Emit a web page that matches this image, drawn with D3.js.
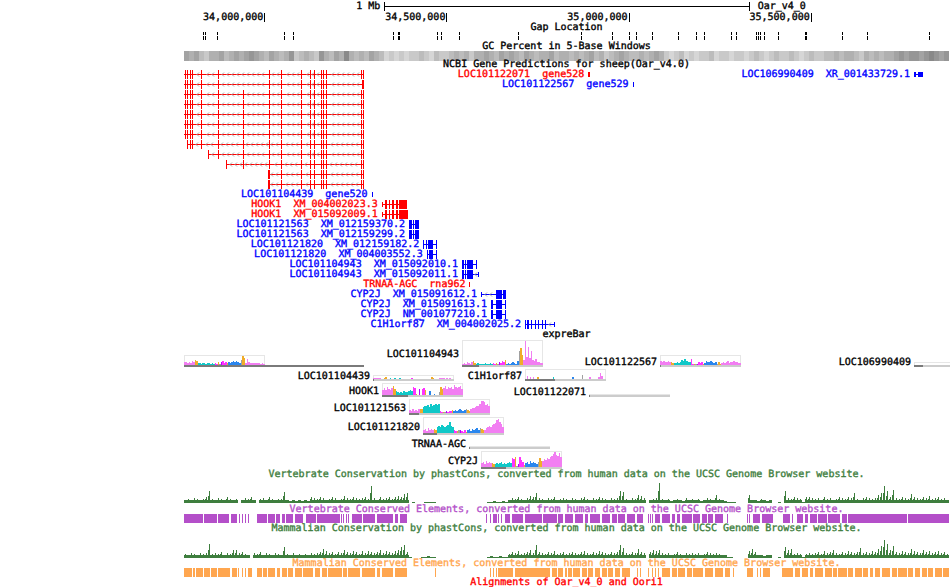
<!DOCTYPE html>
<html><head><meta charset="utf-8">
<script src="https://cdn.jsdelivr.net/npm/d3@7/dist/d3.min.js"></script>
<style>
html,body{margin:0;padding:0;background:#fff;}
svg{display:block}
text{font-family:"DejaVu Sans Mono",monospace;font-size:10px;white-space:pre;stroke-width:0.35px;text-rendering:geometricPrecision}
</style></head><body>
<svg id="chart" width="950" height="587"></svg>
<script>
// ---------------- DATA (genomic positions in kb) ----------------
const viewKb = [33779.56, 35879.65];
const rulerTicksBp = [34000000, 34500000, 35000000, 35500000];
const scaleBarKb = 1000;
const scaleBarLabel = "1 Mb";
const assemblyName = "Oar_v4_0";

const trackTitles = [
  "Gap Location",
  "GC Percent in 5-Base Windows",
  "NCBI Gene Predictions for sheep(Oar_v4.0)",
  "expreBar",
  "Vertebrate Conservation by phastCons, converted from human data on the UCSC Genome Browser website.",
  "Vertebrate Conserved Elements, converted from human data on the UCSC Genome Browser website.",
  "Mammalian Conservation by phastCons, converted from human data on the UCSC Genome Browser website.",
  "Mammalian Conserved Elements, converted from human data on the UCSC Genome Browser website.",
  "Alignments of Oar_v4_0 and Oori1"
];

const gapsKb = [[33830.9,33831.5],[33836.4,33837.0],[33868.8,33872.8],[34054.9,34055.5],[34079.6,34080.2],
  [34354.1,34354.7],[34368.4,34372.5],[34474.1,34478.0],[34485.1,34489.0],[34535.3,34536.0],[34697.3,34698.0],
  [34868.5,34869.1],[34953.6,34954.2],[35001.1,35001.7],[35020.3,35021.0],[35063.4,35064.0],[35136.5,35137.1],
  [35184.2,35184.8],[35207.0,35207.6],[35281.1,35281.7],[35294.8,35295.4],[35348.9,35349.5],[35354.4,35355.0],
  [35360.7,35361.3],[35371.7,35372.3],[35411.0,35411.6],[35484.2,35488.5],[35585.0,35585.6],[35653.6,35654.2],
  [35825.4,35826.0]];

// GC shade classes in equal bins across the view (0 = low GC / light, 9 = high / dark)
const gcShade = [6,5,6,4,3,5,5,6,4,5, 6,5,6,7,6,5,4,6,5,4, 5,7,3,4,5,4,3,7,5,4, 6,5,8,5,4,5,4,6,5,4,
  2,3,2,3,2,3,3,4,3,2, 4,3,3,4,5,4,5,3,5,5, 6,5,4,6,5,6,5,4,6,5, 4,5,5,6,4,5,5,4,
  5,4,5,6,4,5,3,4,5,6,5,4,4,5,4,5,6,5, 3,2,3,4,2,3,2,3,3,4,2,3,3,2,3,3,2,
  3,4,3,2,3,4,3,3,4,3,2,3,4,3,3,4, 4,5,4,5,5,4,3,5,4,5,4,5,5, 6,7,6,7,7,6,7,8,7,6,7];

// Left gene transcripts (label off-screen)
const leftExons = [[33781.5,33783.6],[33788.7,33791.4],[33796.0,33798.4],[33801.6,33804.3],[33827.0,33829.7],
  [33872.4,33875.1],[33941.0,33943.7],[34012.3,34015.0],[34047.2,34049.9],[34100.3,34103.0],[34124.1,34126.8],
  [34137.8,34140.5],[34156.2,34158.9],[34161.7,34164.4],[34169.9,34172.6],[34266.0,34268.7],[34270.4,34273.1]];
const leftTxStart = [33770,33770,33770,33770,33770,33770,33770,33788.7,33846.3,33894.9,34010.0,34010.0];
const leftTxEnd = 34273.1;
const leftTxSkip = [[6],[6,15,16],[],[],[],[],[],[],[],[],[7],[7]];
const leftTxExtra = [[],[[34268.2,34273.6]],[],[],[],[],[],[],[[33846.3,33849.0]],[[33894.9,33897.6]],
  [[34010.0,34015.0]],[[34010.0,34015.0]]];

// Labeled gene predictions: row = packing level in the picture; kind A = red, B = blue
const predGenes = [
  {row:0, name:"LOC101122071", acc:"gene528", kind:"A", exons:[], utr:[[34889.4,34894.9]]},
  {row:0, name:"LOC106990409", acc:"XR_001433729.1", kind:"B", exons:[], utr:[[35783.6,35789.1],[35794.6,35809.1]]},
  {row:1, name:"LOC101122567", acc:"gene529", kind:"B", exons:[], utr:[[35010.8,35013.5]]},
  {row:12, name:"LOC101104439", acc:"gene520", kind:"B", exons:[], utr:[[34294.3,34297.0]]},
  {row:13, name:"HOOK1", acc:"XM_004002023.3", kind:"A", utr:[[34322.3,34324.5]],
   exons:[[34330.0,34335.5],[34342.3,34345.1],[34350.6,34357.4],[34362.9,34365.7],[34369.8,34390.4]]},
  {row:14, name:"HOOK1", acc:"XM_015092009.1", kind:"A", utr:[[34322.3,34324.5]],
   exons:[[34330.0,34335.5],[34342.3,34345.1],[34350.6,34357.4],[34362.9,34365.7],[34369.8,34393.2]]},
  {row:15, name:"LOC101121563", acc:"XM_012159370.2", kind:"B", utr:[],
   exons:[[34397.2,34404.1],[34408.2,34410.1],[34413.7,34425.5]]},
  {row:16, name:"LOC101121563", acc:"XM_012159299.2", kind:"B", utr:[],
   exons:[[34397.2,34404.1],[34408.2,34410.1],[34413.7,34425.5]]},
  {row:17, name:"LOC101121820", acc:"XM_012159182.2", kind:"B", utr:[],
   exons:[[34436.5,34438.4],[34443.9,34446.6],[34449.4,34463.2],[34471.4,34473.3]]},
  {row:18, name:"LOC101121820", acc:"XM_004003552.3", kind:"B", utr:[],
   exons:[[34445.8,34448.6],[34450.8,34463.2],[34471.4,34473.3]]},
  {row:19, name:"LOC101104943", acc:"XM_015092010.1", kind:"B", utr:[],
   exons:[[34542.7,34546.9],[34551.0,34553.7],[34557.8,34571.6],[34581.2,34583.9]]},
  {row:20, name:"LOC101104943", acc:"XM_015092011.1", kind:"B", utr:[[34587.0,34589.4]],
   exons:[[34542.7,34546.9],[34551.0,34553.7],[34557.8,34571.6]]},
  {row:21, name:"TRNAA-AGC", acc:"rna962", kind:"A", exons:[], utr:[[34563.3,34566.0]]},
  {row:22, name:"CYP2J", acc:"XM_015091612.1", kind:"B", utr:[[34594.9,34596.8]],
   exons:[[34635.2,34640.7],[34642.4,34653.4],[34656.1,34663.5]]},
  {row:23, name:"CYP2J", acc:"XM_015091613.1", kind:"B", utr:[],
   exons:[[34622.3,34628.7],[34635.2,34653.4],[34660.8,34663.5]]},
  {row:24, name:"CYP2J", acc:"NM_001077210.1", kind:"B", utr:[],
   exons:[[34622.3,34628.7],[34635.2,34653.4],[34660.8,34663.5]]},
  {row:25, name:"C1H1orf87", acc:"XM_004002025.2", kind:"B", utr:[[34796.1,34798.1]],
   exons:[[34715.7,34718.4],[34722.5,34725.3],[34732.1,34734.9],[34743.1,34745.9],[34750.0,34752.8],
          [34763.2,34766.0],[34769.3,34772.0]]}
];

// expression bar chart: tissue colours and per-gene levels (53 tissues)
const tissueColors = ["#f27ef2","#f27ef2","#f27ef2","#f27ef2","#f27ef2","#f27ef2","#f27ef2",
  "#f0ac2a","#f0ac2a",
  "#10c8c8","#10c8c8","#10c8c8","#10c8c8","#10c8c8","#10c8c8","#10c8c8","#10c8c8","#10c8c8","#10c8c8","#10c8c8",
  "#ff33ff","#ff33ff","#f0ac2a","#a0a0a0",
  "#b400ff","#ff33ff","#ff33ff","#ff33ff","#f0ac2a",
  "#2a86ee","#2a86ee","#2a86ee","#2a86ee","#2a86ee","#2a86ee","#2a86ee","#2a86ee",
  "#a0a0a0","#f0ac2a","#f0ac2a",
  "#f27ef2","#f27ef2","#f27ef2","#f27ef2","#f27ef2","#f27ef2","#f27ef2","#f27ef2","#f27ef2","#f27ef2","#f27ef2","#f27ef2","#f27ef2"];
const exprLeftGene    = [3,3,2,3,2,4,3, 5,4, 2,2,1,2,2,1,2,2,1,2,1, 2,1, 3, 1, 3,4,2,3, 2, 3,2,3,4,3,4,3,2, 5, 9,7, 2,6,3,2,2,2,2,2,2,2,1,2,1];
const exprLOC101104439 = [1,1,1,1,1,0,0, 1,2, 0,0,1,0,0,1,0,0,1,0,0, 0,0, 0, 0, 0,1,0,0, 0, 0,0,0,0,0,0,0,0, 0, 2,1, 0,0,0,1,1,1,1,0,1,0,1,0,0];
const exprHOOK1       = [5,7,5,8,6,5,7, 9,6, 4,3,2,3,2,4,3,3,4,5,4, 8,7, 1, 0, 6,0,6,7, 5, 0,0,4,0,0,1,0,0, 3, 8,6, 7,9,6,8,7,8,6,10,8,7,8,9,6];
const exprLOC101121563 = [3,2,4,2,3,2,4, 4,4, 6,7,7,8,6,9,7,8,9,8,9, 2,1, 1, 1, 2,1,2,2, 3, 2,3,2,3,4,3,2,3, 4, 3,2, 4,5,5,6,7,7,9,12,12,11,8,9,7];
const exprLOC101121820 = [3,4,2,5,3,4,3, 4,3, 6,7,6,8,7,6,7,8,11,7,6, 3,2, 2, 3, 3,2,1,3, 1, 3,4,2,4,3,4,5,3, 5, 4,3, 3,5,6,7,6,8,9,10,13,14,11,9,6];
const exprLOC101104943 = [1,2,1,3,2,1,3, 4,2, 1,2,1,1,1,1,2,1,1,2,1, 2,1, 2, 1, 3,2,4,3, 5, 1,2,1,2,3,2,1,4, 14, 17,10, 5,24,8,18,7,14,5,4,6,3,3,2,2];
const exprCYP2J       = [4,5,3,6,4,5,4, 4,3, 3,4,3,4,5,3,4,3,4,5,4, 9,8, 10, 1, 3,10,7,5, 2, 4,5,3,6,4,5,4,3, 5, 9,6, 6,8,7,9,8,10,11,13,15,12,11,14,10];
const exprC1H1orf87   = [0,3,0,2,0,2,0, 0,2, 0,0,0,0,0,0,0,0,0,2,0, 0,0, 0, 0, 0,0,0,0, 0, 0,0,2,0,0,0,0,0, 4, 0,0, 0,0,2,0,0,0,0,0,2,6,3,0,0];
const exprLOC101122567 = [4,3,4,3,3,4,3, 3,2, 2,2,3,2,3,5,4,6,4,3,3, 6,1, 1, 1, 1,3,2,3, 1, 2,4,3,3,4,3,2,3, 1, 3,1, 2,3,2,3,4,2,3,3,4,3,3,2,2];
const exprGenes = [
  {name:"",             start:33770.0, end:34273.1, ceil:10, vals:exprLeftGene},
  {name:"LOC101104439", start:34297.6, end:34298.6, ceil:4,  vals:exprLOC101104439},
  {name:"HOOK1",        start:34322.3, end:34393.2, ceil:12, vals:exprHOOK1},
  {name:"LOC101121563", start:34397.2, end:34425.5, ceil:14, vals:exprLOC101121563},
  {name:"LOC101121820", start:34436.5, end:34474.1, ceil:16, vals:exprLOC101121820},
  {name:"LOC101104943", start:34542.7, end:34589.4, ceil:25, vals:exprLOC101104943},
  {name:"TRNAA-AGC",    start:34561.9, end:34564.6, ceil:1,  vals:[]},
  {name:"CYP2J",        start:34594.9, end:34663.5, ceil:16, vals:exprCYP2J},
  {name:"C1H1orf87",    start:34715.7, end:34798.1, ceil:10, vals:exprC1H1orf87},
  {name:"LOC101122071", start:34891.3, end:34894.0, ceil:1,  vals:[]},
  {name:"LOC101122567", start:35086.2, end:35088.9, ceil:10, vals:exprLOC101122567},
  {name:"LOC106990409", start:35783.6, end:35809.1, ceil:3,  vals:[]}
];

// conservation scores, equal bins across the view (null = no data)
const vertCons = [3,4,3,5,4,3,4,6,12,4, 3,5,4,3,6,4,3,4,null,3, 5,4,6,3,null,4,5,3,6,4, 3,4,4,11,3,2,3,2,3,2,
  3,2,6,5,4,6,5,3,4,6, 5,3,4,7,5,4,6,5,4,5, 6,4,17,5,3,6,4,5,6,4, 6,7,6,9,10,null,1,null,null,null,
  1,1,1,1,null,null,null,null,null,null, null,null,null,null,null,null,null,null,null,null,
  null,1,1,2,1,1,2,1,3,5, 4,6,4,3,5,7,6,10,5,4, 3,5,4,6,3,4,5,4,3,5, 4,3,5,6,4,3,5,4,6,5,
  4,3,5,4,5,12,11,4,3,5, 4,8,7,5,null,3,4,5,20,4, 3,4,2,3,4,3,2,5,3,4, 3,4,2,3,5,4,3,8,4,3,
  2,1,1,1,null,null,null,null,8,3, 3,2,4,3,2,3,null,null,1,null, 12,5,4,6,5,4,1,6,6,5,
  4,5,3,6,4,5,3,4,6,5, 4,6,5,10,4,3,5,6,5,4, 5,8,10,17,12,6,13,5,4,6, 5,4,9,6,5,4,6,5,7,4, 5,6,4,5,3];
const mammCons = [4,3,5,4,3,5,4,5,14,4, 5,4,6,3,5,4,8,8,5,6, 4,3,null,5,4,6,3,5,4,3, 5,4,3,11,4,3,5,3,4,3,
  4,3,5,4,5,6,9,7,5,6, 4,6,5,8,6,5,7,6,4,7, 5,7,6,5,6,8,5,7,6,5, 7,8,11,13,6,1,null,null,null,1,
  1,2,1,1,null,null,null,null,null,null, null,null,null,null,null,null,null,null,null,null,
  null,1,2,1,1,2,1,1,4,6, 5,7,4,5,6,8,5,13,6,5, 4,6,5,7,4,5,6,4,5,6, 5,4,6,7,5,4,6,5,7,6,
  5,4,6,5,6,13,10,5,4,6, 5,9,6,5,null,6,8,7,8,5, 4,5,3,4,6,4,3,5,4,5, 4,5,3,4,6,5,4,5,4,3,
  3,1,1,null,null,null,null,null,7,9, 6,3,3,2,3,3,null,null,1,null, 11,8,9,4,5,4,1,4,5,4,
  5,6,4,7,5,6,8,5,4,6, 5,7,6,5,6,10,5,6,5,7, 6,9,12,18,14,8,12,6,5,7, 6,5,9,7,6,5,8,6,7,5, 6,7,5,6,4];

const vertElements = [[33779.6,33832.6],[33834.5,33871.0],[33873.8,33903.9],[33907.8,33925.9],[33929.8,33932.5],
  [33938.0,33940.7],[33947.0,33949.7],[33956.1,33958.8],[33980.8,34008.3],[34011.0,34029.4],[34032.1,34043.1],
  [34047.8,34056.8],[34059.6,34079.6],[34084.3,34105.4],[34114.5,34141.9],[34143.9,34207.8],[34210.6,34213.3],
  [34216.9,34219.6],[34223.5,34226.2],[34229.0,34231.7],[34239.9,34267.4],[34270.1,34303.9],[34308.6,34354.1],
  [34358.8,34367.9],[34372.5,34390.9],[34608.6,34611.3],[34619.6,34622.3],[34628.6,34638.0],[34642.4,34645.1],
  [34648.9,34651.6],[34660.7,34674.5],[34679.1,34711.0],[34715.6,34761.5],[34765.9,34802.7],[34807.1,34820.8],
  [34825.4,34848.2],[34852.9,34875.7],[34880.3,34889.4],[34894.1,34921.5],[34926.2,34949.0],[34953.6,34967.4],
  [34971.8,34990.1],[34994.8,35017.6],[35022.3,35038.7],[35054.1,35056.8],[35058.8,35061.5],[35063.4,35066.1],
  [35072.5,35086.2],[35090.9,35113.7],[35118.3,35127.4],[35132.1,35141.1],[35145.8,35173.2],[35177.6,35196.0],
  [35200.7,35214.4],[35218.8,35232.5],[35237.2,35260.0],[35269.3,35272.0],[35324.2,35326.9],[35331.3,35334.0],
  [35342.3,35360.7],[35365.4,35397.2],[35423.0,35443.1],[35447.7,35450.4],[35461.5,35479.6],[35484.2,35493.3],
  [35498.0,35516.4],[35520.8,35543.8],[35548.2,35580.3],[35585.0,35598.7],[35603.1,35763.4],[35767.8,35880.0]];
const mammElements = [[33779.6,33800.7],[33803.5,33809.8],[33812.5,33832.6],[33835.3,33851.0],[33853.7,33869.4],
  [33873.8,33905.9],[33910.5,33924.3],[33928.7,33931.4],[33938.0,33940.7],[33947.0,33949.7],[33956.1,33965.4],
  [33980.8,33992.9],[33995.6,34008.3],[34011.0,34029.4],[34034.1,34043.1],[34047.8,34061.5],[34065.9,34079.6],
  [34084.3,34102.7],[34107.1,34134.5],[34139.2,34152.9],[34157.6,34171.3],[34175.7,34212.5],[34216.9,34226.2],
  [34230.6,34262.7],[34267.4,34303.9],[34308.6,34317.6],[34322.3,34354.1],[34358.8,34390.9],[34468.6,34471.3],
  [34619.6,34622.3],[34627.8,34630.5],[34636.0,34638.7],[34642.4,34683.5],[34688.2,34784.3],[34788.9,34802.7],
  [34807.1,34820.8],[34825.4,34830.1],[34834.5,34843.8],[34848.2,34866.6],[34871.3,34885.0],[34889.4,34903.1],
  [34907.8,34921.5],[34926.2,34939.9],[34944.3,34958.0],[34962.7,34976.4],[34981.1,35003.9],[35022.3,35025.0],
  [35031.3,35034.0],[35054.1,35056.8],[35063.4,35066.1],[35072.5,35075.2],[35081.6,35084.3],[35090.9,35113.7],
  [35118.3,35132.1],[35136.5,35154.8],[35159.5,35173.2],[35177.6,35205.1],[35209.7,35232.5],[35237.2,35260.0],
  [35264.6,35278.4],[35287.4,35290.1],[35324.2,35342.3],[35351.7,35354.4],[35360.7,35363.4],[35369.8,35388.2],
  [35420.3,35452.1],[35456.8,35470.5],[35475.2,35493.3],[35498.0,35507.0],[35511.7,35534.5],[35539.1,35557.5],
  [35561.9,35571.3],[35575.7,35598.7],[35603.1,35616.8],[35621.5,35639.9],[35644.3,35658.0],[35662.7,35671.7],
  [35676.4,35690.1],[35694.8,35717.6],[35722.2,35736.0],[35740.4,35763.4],[35767.8,35781.5],[35786.2,35799.9],
  [35804.6,35818.3],[35822.7,35836.4],[35841.1,35859.5],[35863.9,35880.0]];

// ---------------- DRAWING ----------------
const svg = d3.select("#chart");
const X0 = 184, X1 = 949, CX = (X0 + X1) / 2;
const x = d3.scaleLinear().domain(viewKb).range([X0, X1]);
const xc = v => Math.max(X0, Math.min(X1, x(v)));
const COL = {A:"#ff0000", B:"#0000ff", green:"#3e7e3e", purple:"#b44fc9", orange:"#ffa64f",
             red:"#ff0000", barb:"#a8a8a8"};
const CH = 6.02; // char width of 10px DejaVu Sans Mono

function centerText(str, baseline, color){
  svg.append("text").attr("x", CX).attr("y", baseline).attr("text-anchor","middle")
     .attr("fill", color).text(str);
}
function rectKb(g, s, e, y, h, fill){
  const a = xc(s), b = xc(e);
  if (b <= X0 || a >= X1) return;
  g.append("rect").attr("x", a).attr("y", y).attr("width", Math.max(1, b - a)).attr("height", h).attr("fill", fill);
}

// ruler
const ruler = svg.append("g").attr("shape-rendering","crispEdges");
const midKb = x.invert(CX);
const sb0 = midKb - scaleBarKb/2, sb1 = midKb + scaleBarKb/2;
ruler.append("rect").attr("x", x(sb0)).attr("y", 6).attr("width", x(sb1)-x(sb0)).attr("height",1).attr("fill","#000");
[sb0, sb1].forEach(v => ruler.append("rect").attr("x", x(v)).attr("y", 2).attr("width",1).attr("height",9).attr("fill","#000"));
svg.append("text").attr("x", x(sb0) - 4).attr("y", 9.4).attr("text-anchor","end").attr("fill","#000").text(scaleBarLabel);
svg.append("text").attr("x", x(sb1) + 9).attr("y", 9.4).attr("fill","#000").text(assemblyName);
const fmt = d3.format(",");
rulerTicksBp.forEach(t => {
  const px = x(t/1000);
  ruler.append("rect").attr("x", px).attr("y", 13).attr("width",1).attr("height",9).attr("fill","#000");
  svg.append("text").attr("x", px - 1).attr("y", 20.4).attr("text-anchor","end").attr("fill","#000").text(fmt(t));
});

// gap track
centerText(trackTitles[0], 30.4, "#000");
const gapG = svg.append("g").attr("shape-rendering","crispEdges");
gapsKb.forEach(g => { rectKb(gapG, g[0], g[1], 32, 3, "#000"); rectKb(gapG, g[0], g[1], 36, 4, "#000"); });

// GC percent
centerText(trackTitles[1], 49.4, "#000");
const gcG = svg.append("g").attr("shape-rendering","crispEdges");
const gcCol = d3.scaleLinear().domain([0, 9]).range(["#f0f0f0", "#7c7c7c"]);
const gcBin = (viewKb[1]-viewKb[0]) / gcShade.length;
gcShade.forEach((v,i) => rectKb(gcG, viewKb[0]+i*gcBin, viewKb[0]+(i+1)*gcBin, 51, 10, gcCol(v)));

// gene predictions
centerText(trackTitles[2], 67.4, "#000");
const geneG = svg.append("g").attr("shape-rendering","crispEdges");
const rowY = r => 74 + r * 10;
function barbs(color, y, a, b, blocks){
  for (let px = Math.ceil(a) + 3; px < b - 3; px += 5) {
    if (blocks.some(k => px >= k[0] - 2 && px <= k[1] + 1)) continue;
    geneG.append("path").attr("d", `M${px+2},${y-2}L${px},${y}L${px+2},${y+2}`)
      .attr("stroke", COL.barb).attr("fill","none").attr("stroke-width",1).attr("shape-rendering","auto");
  }
}
function drawTranscript(y, s, e, exons, utr, color){
  const a = xc(s), b = xc(e);
  geneG.append("rect").attr("x", a).attr("y", y).attr("width", Math.max(1, b-a)).attr("height",1).attr("fill", color);
  const blocks = exons.concat(utr).map(k => [xc(k[0]), xc(k[1])]);
  barbs(color, y + 0.5, a, b, blocks);
  utr.forEach(k => rectKb(geneG, k[0], k[1], y - 2, 5, color));
  exons.forEach(k => rectKb(geneG, k[0], k[1], y - 4, 9, color));
}
leftTxStart.forEach((st, r) => {
  const ex = leftExons.filter((k,i) => k[0] >= st - 0.01 && !leftTxSkip[r].includes(i)).concat(leftTxExtra[r]);
  drawTranscript(rowY(r), st, leftTxEnd, ex, [], COL.A);
});
predGenes.forEach(g => {
  const all = g.exons.concat(g.utr);
  const s = d3.min(all, k => k[0]), e = d3.max(all, k => k[1]);
  const y = rowY(g.row), c = COL[g.kind];
  drawTranscript(y, s, e, g.exons, g.utr, c);
  svg.append("text").attr("x", xc(s) - 4).attr("y", y + 3.4).attr("text-anchor","end")
     .attr("fill", c).text(g.name + "  " + g.acc);
});

// expression bars
centerText(trackTitles[3], 337.4, "#000");
const exG = svg.append("g").attr("shape-rendering","crispEdges");
const yE = d3.scaleLinear().domain([0, 25]).range([0, 25]);
const BOXW = 81;
const rowsEnd = [];
const placed = exprGenes.slice().sort((a,b) => a.start - b.start).map(g => {
  const bx = Math.round(xc(g.start));
  const occ0 = bx - 3 - g.name.length * CH - 2;
  const occ1 = Math.max(bx + BOXW, xc(g.end));
  let r = 0;
  while (rowsEnd[r] !== undefined && rowsEnd[r] > occ0) r++;
  rowsEnd[r] = occ1 + 2;
  return {g, bx, r};
});
const nRows = rowsEnd.length;
const rowBottom = [];
let curTop = 340;
for (let r = 0; r < nRows; r++) {
  const h = Math.max(10, d3.max(placed.filter(p => p.r === r), p => yE(p.g.ceil)));
  rowBottom[r] = curTop + h;
  curTop = curTop + h + 4;
}
placed.forEach(({g, bx, r}) => {
  const bottom = rowBottom[r];
  const bh = yE(g.ceil);
  exG.append("rect").attr("x", bx + 0.5).attr("y", bottom - bh + 0.5).attr("width", BOXW - 1).attr("height", bh)
     .attr("fill","none").attr("stroke","#e6e6e6");
  const bw = BOXW / tissueColors.length;
  g.vals.forEach((v, i) => {
    if (v <= 0) return;
    const a = Math.round(bx + i * bw), b = Math.round(bx + (i+1) * bw);
    exG.append("rect").attr("x", a).attr("y", bottom - yE(v)).attr("width", Math.max(1, b - a))
       .attr("height", yE(v)).attr("fill", tissueColors[i]);
  });
  exG.append("rect").attr("x", bx).attr("y", bottom).attr("width", Math.min(BOXW, X1 + 1 - bx)).attr("height", 2).attr("fill","#cccccc");
  const ga = xc(g.start), gb = xc(g.end);
  exG.append("rect").attr("x", ga).attr("y", bottom).attr("width", Math.max(1.5, gb - ga)).attr("height", 2).attr("fill","#7a7a7a");
  if (g.name) {
    const cy = Math.round(bottom - Math.max(bh, 10) / 2 + 1.5);
    svg.append("text").attr("x", bx - 3).attr("y", cy + 3.4).attr("text-anchor","end").attr("fill","#000").text(g.name);
  }
});

// conservation wiggles & elements: each bin drawn as a base band plus a 1px peak
function wiggle(vals, base, color){
  const g = svg.append("g").attr("shape-rendering","crispEdges");
  const bin = (viewKb[1]-viewKb[0]) / vals.length;
  const yW = d3.scaleLinear().domain([0, 23]).range([0, 23]);
  vals.forEach((v, i) => {
    if (v === null || v <= 0) return;
    const a = Math.round(x(viewKb[0] + i * bin)), b = Math.round(x(viewKb[0] + (i+1) * bin));
    const hb = Math.min(yW(v), yW(3));
    g.append("rect").attr("x", a).attr("y", base - hb).attr("width", Math.max(1, b - a))
     .attr("height", hb).attr("fill", color);
    g.append("rect").attr("x", a + 1).attr("y", base - yW(v)).attr("width", 1)
     .attr("height", yW(v)).attr("fill", color);
    if (v > 5) g.append("rect").attr("x", a).attr("y", base - yW(v) * 0.6).attr("width", 1)
     .attr("height", yW(v) * 0.6).attr("fill", color);
  });
}
function elements(list, y, color){
  const g = svg.append("g").attr("shape-rendering","crispEdges");
  list.forEach(k => rectKb(g, k[0], k[1], y, 9, color));
}
centerText(trackTitles[4], 477.4, COL.green);
wiggle(vertCons, 503, COL.green);
centerText(trackTitles[5], 512.4, COL.purple);
elements(vertElements, 514, COL.purple);
centerText(trackTitles[6], 531.4, COL.green);
wiggle(mammCons, 558, COL.green);
centerText(trackTitles[7], 566.4, COL.orange);
elements(mammElements, 568, COL.orange);
centerText(trackTitles[8], 585.4, COL.red);

// thicken glyph strokes so thin marks (underscores) stay visible, like the bitmap font
svg.selectAll("text").attr("stroke", function(){ return this.getAttribute("fill") || "#000"; });
</script>
</body></html>
